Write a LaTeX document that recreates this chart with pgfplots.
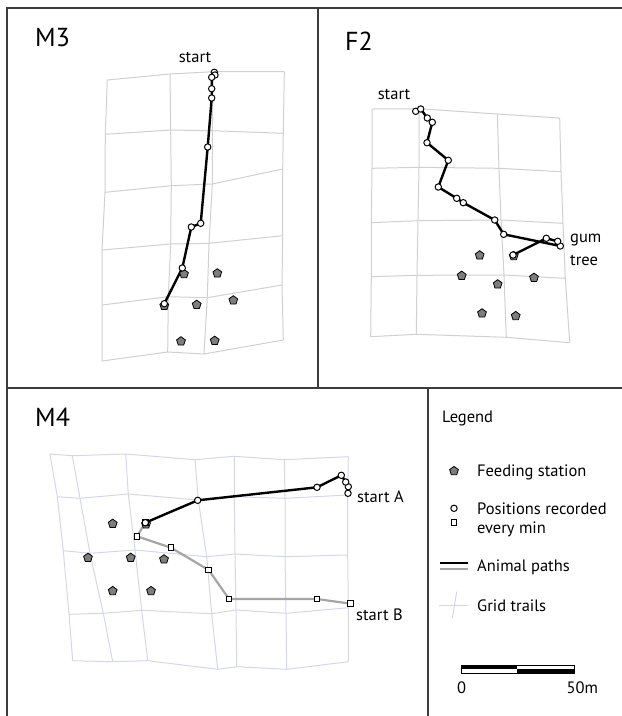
\documentclass[border=0pt]{standalone}
\usepackage{fontspec}
\setmainfont{PT Sans}
\usepackage{pgfplots}
\pgfplotsset{compat=1.18}

\definecolor{gridgrey}{RGB}{208,208,208}
\definecolor{gridblue}{RGB}{214,214,234}
\definecolor{pathgrey}{RGB}{165,165,165}
\definecolor{stationgrey}{RGB}{125,125,125}
\definecolor{framegrey}{RGB}{60,60,60}

\pgfplotsset{
  frameline/.style={framegrey, line width=1.4pt, no markers},
  gridM/.style={gridgrey, line width=1pt, no markers},
  gridB/.style={gridblue, line width=1pt, no markers},
  station/.style={only marks, mark=pentagon*, mark size=4.6pt,
    mark options={fill=stationgrey, draw=black, line width=0.8pt}},
  blackpath/.style={black, line width=2.4pt, mark=*, mark size=3.2pt,
    mark options={fill=white, draw=black, line width=1pt}},
  greypath/.style={pathgrey, line width=2.2pt, mark=square*, mark size=2.8pt,
    mark options={fill=white, draw=black, line width=1pt}},
}
\newcommand{\panelfont}{\fontsize{26}{26}\selectfont}
\newcommand{\lab}{\fontsize{16.5}{16.5}\selectfont}

\begin{document}
\begin{tikzpicture}[every node/.append style={inner sep=0pt}]
\path[use as bounding box] (0,0) rectangle (622pt,716pt);
\begin{axis}[
  at={(0,0)}, anchor=south west,
  scale only axis, width=622pt, height=716pt,
  xmin=0, xmax=622, ymin=0, ymax=716, y dir=reverse,
  hide axis, clip=false,
]
% frames
\addplot[frameline] coordinates {(7,716) (7,8) (622,8)};
\addplot[frameline] coordinates {(7,388) (622,388)};
\addplot[frameline] coordinates {(318,8) (318,388)};
\addplot[frameline] coordinates {(428,388) (428,716)};

% M3 grid
\addplot[gridM] coordinates {(107.3,80) (170,74) (213.3,71.7) (284.3,71.7)};
\addplot[gridM] coordinates {(105.3,134.3) (170.7,130) (212.3,130.7) (283.3,133.3)};
\addplot[gridM] coordinates {(105,192.3) (171.3,185.7) (212.3,184) (282.7,169)};
\addplot[gridM] coordinates {(102,250) (170.7,244) (209,243.3) (282.7,235.7)};
\addplot[gridM] coordinates {(102,305) (168.3,296.7) (207.3,297.7) (282,285)};
\addplot[gridM] coordinates {(102,361) (167.7,352) (204,354) (283.3,340)};
\addplot[gridM] coordinates {(107.3,80) (105.3,134.3) (105,192.3) (102,250) (102,305) (102,361)};
\addplot[gridM] coordinates {(170,74) (170.7,130) (171.3,185.7) (170.7,244) (168.3,296.7) (167.7,352)};
\addplot[gridM] coordinates {(213.3,71.7) (212.3,130.7) (212.3,184) (209,243.3) (207.3,297.7) (204,354)};
\addplot[gridM] coordinates {(284.3,71.7) (283.3,133.3) (282.7,169) (282.7,235.7) (282,285) (283.3,340)};
% M3 stations and path
\addplot[station] coordinates {(184,274) (217.3,273.3) (233.3,300.3) (196.7,304.7) (164.3,305.7) (181,341.3) (214.7,340.7)};
\addplot[blackpath] coordinates {(214.3,72.3) (215,75) (211.7,77.3) (211.7,88.7) (211.7,98) (207.7,147) (200.7,223.3) (191.3,227) (182.3,268) (164.3,303.7)};

% F2 grid
\addplot[gridM] coordinates {(372,109) (419,108.7) (497.3,114) (559.7,118)};
\addplot[gridM] coordinates {(372,168.3) (419,167.3) (499,168.3) (561,171.7)};
\addplot[gridM] coordinates {(371.3,222.7) (418,220.7) (501,220) (563,223.3)};
\addplot[gridM] coordinates {(371.3,276.7) (417,275.3) (504,275) (565.3,278.3)};
\addplot[gridM] coordinates {(370.7,336.7) (416.3,334.3) (506.3,337.3) (569.7,342.7)};
\addplot[gridM] coordinates {(372,109) (372,168.3) (371.3,222.7) (371.3,276.7) (370.7,336.7)};
\addplot[gridM] coordinates {(419,108.7) (419,167.3) (418,220.7) (417,275.3) (416.3,334.3)};
\addplot[gridM] coordinates {(497.3,114) (499,168.3) (501,220) (504,275) (506.3,337.3)};
\addplot[gridM] coordinates {(559.7,118) (561,171.7) (563,223.3) (565.3,278.3) (569.7,342.7)};
% F2 stations and path
\addplot[station] coordinates {(479.7,255.3) (513.7,256) (461.7,275.7) (534,277.7) (497.7,284.3) (482,313.3) (515.7,316)};
\addplot[blackpath] coordinates {(415.7,111.3) (420.7,109) (427.3,118) (432.3,122.3) (427,142.7) (448.3,160.3) (438.3,187) (456.7,198.3) (463.3,202.7) (494.7,220) (503.7,234.3) (560.3,246) (557.7,241.3) (546.3,238.3) (513,255)};

% M4 grid
\addplot[gridB] coordinates {(50,454) (72.3,455.7) (125.7,454) (195,459.7) (234.3,456.3) (284.3,459.7) (348.3,456.7)};
\addplot[gridB] coordinates {(57.3,496.7) (80,498.3) (128.3,494) (198.3,500) (234.3,496.7) (285,498.3) (347.7,495)};
\addplot[gridB] coordinates {(63.3,550.7) (90,553.3) (135,550) (206.7,556.7) (235,554) (285,556.7) (347.7,555)};
\addplot[gridB] coordinates {(69,614.3) (103.3,613.3) (141.7,610.3) (211.7,613.7) (236,610) (286,613.3) (348.3,607.7)};
\addplot[gridB] coordinates {(72.7,660.7) (112.7,661.7) (147.7,660.7) (217.7,669.3) (236.7,666.7) (286.7,669.3) (348.3,661.7)};
\addplot[gridB] coordinates {(50,454) (57.3,496.7) (63.3,550.7) (69,614.3) (72.7,660.7)};
\addplot[gridB] coordinates {(72.3,455.7) (80,498.3) (90,553.3) (103.3,613.3) (112.7,661.7)};
\addplot[gridB] coordinates {(125.7,454) (128.3,494) (135,550) (141.7,610.3) (147.7,660.7)};
\addplot[gridB] coordinates {(195,459.7) (198.3,500) (206.7,556.7) (211.7,613.7) (217.7,669.3)};
\addplot[gridB] coordinates {(234.3,456.3) (234.3,496.7) (235,554) (236,610) (236.7,666.7)};
\addplot[gridB] coordinates {(284.3,459.7) (285,498.3) (285,556.7) (286,613.3) (286.7,669.3)};
\addplot[gridB] coordinates {(348.3,456.7) (347.7,495) (347.7,555) (348.3,607.7) (348.3,661.7)};
% M4 stations and paths
\addplot[station] coordinates {(112.7,523.7) (146,524.3) (88,557.7) (130.7,557.7) (164,559.3) (112.7,591) (151,591)};
\addplot[greypath] coordinates {(350.7,603.7) (317,599) (229,599) (208.7,570) (171,547.7) (137,536.3) (145.3,522.7)};
\addplot[blackpath] coordinates {(348,493.3) (348.3,486.7) (345.7,482) (341.3,475.3) (317,487.3) (197.7,500.3) (145.3,522.7)};

% legend symbols
\addplot[station] coordinates {(454,471)};
\addplot[only marks, mark=*, mark size=3.2pt, mark options={fill=white, draw=black, line width=1pt}] coordinates {(454,508.3)};
\addplot[only marks, mark=square*, mark size=2.9pt, mark options={fill=white, draw=black, line width=1pt}] coordinates {(454,522.3)};
\addplot[black, line width=1.8pt, no markers] coordinates {(440,563.3) (468.3,563.3)};
\addplot[pathgrey, line width=1.8pt, no markers] coordinates {(440,569.3) (468.3,569.3)};
\addplot[gridB] coordinates {(439,605) (468.3,605)};
\addplot[gridB] coordinates {(456.7,591.7) (452.3,618.3)};

% scale bar
\addplot[draw=none, fill=black] coordinates {(461,665) (516.7,665) (516.7,669.3) (461,669.3)} -- cycle;
\addplot[draw=none, fill=black] coordinates {(516.7,669) (574,669) (574,673.3) (516.7,673.3)} -- cycle;
\addplot[black, line width=0.8pt, no markers] coordinates {(461,665) (574,665) (574,673.3) (461,673.3) (461,665)};

% text
\node[anchor=west, font=\panelfont] at (axis cs:35,38) {M3};
\node[anchor=west, font=\panelfont] at (axis cs:345,41) {F2};
\node[anchor=west, font=\panelfont] at (axis cs:35,417) {M4};
\node[font=\lab] at (axis cs:195,57) {start};
\node[font=\lab] at (axis cs:394,94) {start};
\node[anchor=west, font=\lab] at (axis cs:570,240) {gum};
\node[anchor=west, font=\lab] at (axis cs:570,260) {tree};
\node[anchor=west, font=\lab] at (axis cs:357,497) {start A};
\node[anchor=west, font=\lab] at (axis cs:356,615) {start B};
\node[anchor=west, font=\lab] at (axis cs:442,418.5) {Legend};
\node[anchor=west, font=\lab] at (axis cs:477,472) {Feeding station};
\node[anchor=west, font=\lab] at (axis cs:477,508.5) {Positions recorded};
\node[anchor=west, font=\lab] at (axis cs:477,529.5) {every min};
\node[anchor=west, font=\lab] at (axis cs:477,567) {Animal paths};
\node[anchor=west, font=\lab] at (axis cs:477,606) {Grid trails};
\node[font=\lab] at (axis cs:461.7,688) {0};
\node[font=\lab] at (axis cs:582.3,688) {50m};
\end{axis}
\end{tikzpicture}
\end{document}
